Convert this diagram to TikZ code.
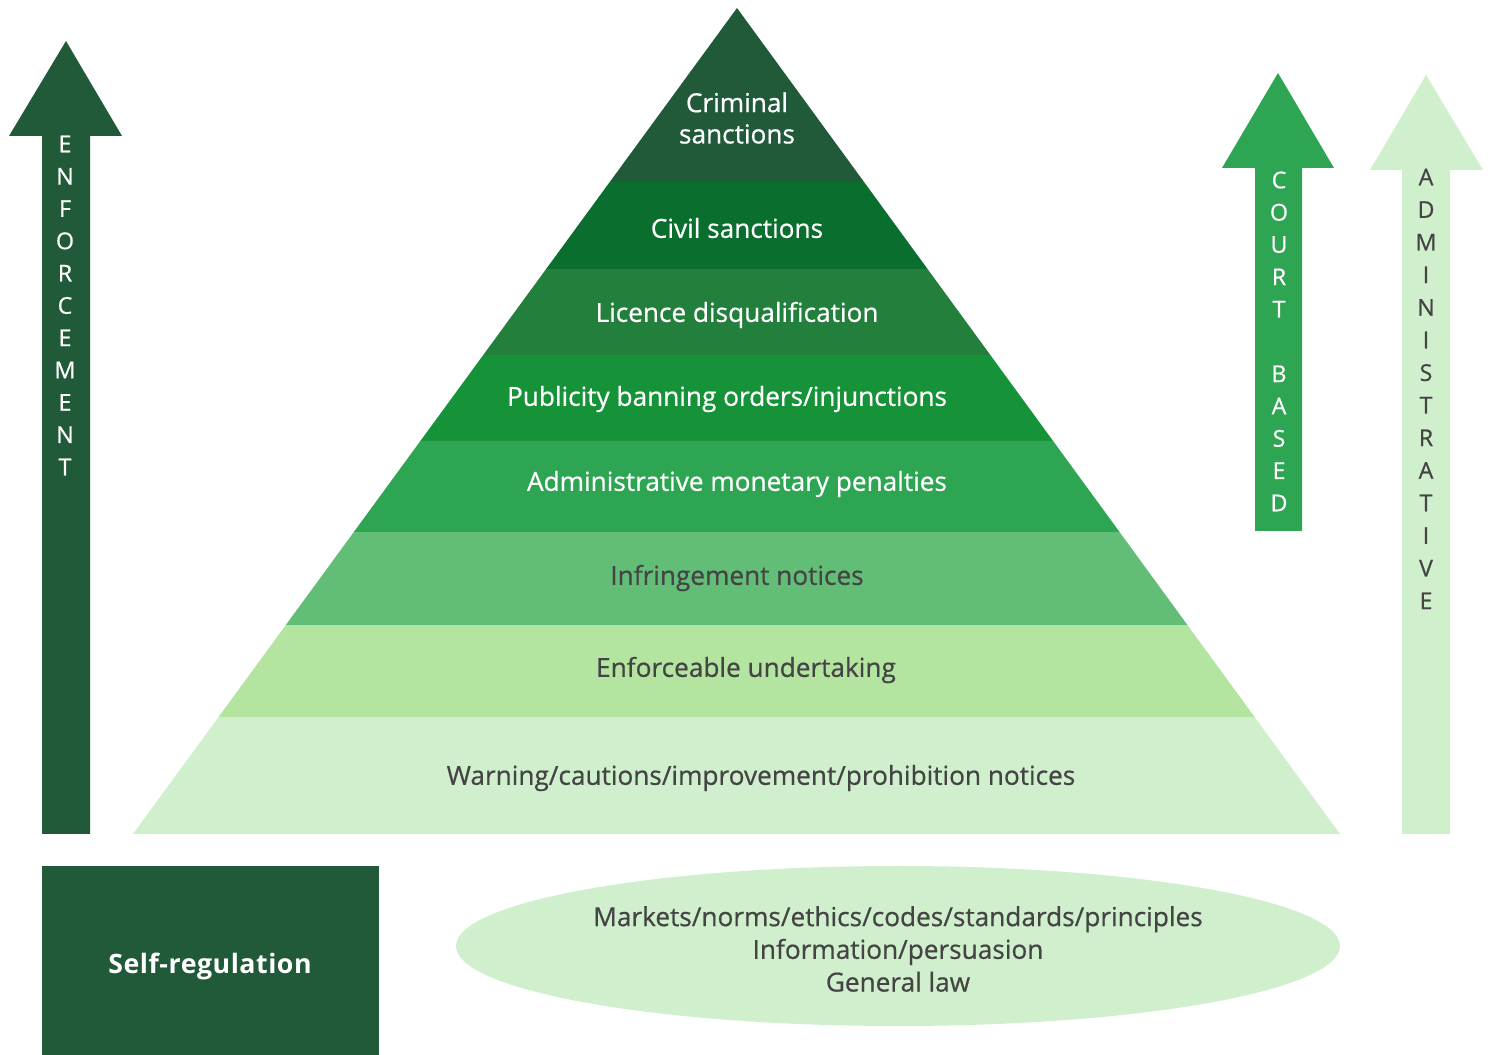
\documentclass[tikz,border=0pt]{standalone}
\usepackage{fontspec}
\setmainfont{Open Sans}
\newfontfamily\semib{Open Sans}[FakeBold=0.6]
\usepackage{tikz}
\usetikzlibrary{shapes,arrows,positioning,calc}
\definecolor{darkgreen}{RGB}{33,90,56}
\definecolor{civilgreen}{RGB}{10,110,46}
\definecolor{licgreen}{RGB}{35,127,60}
\definecolor{pubgreen}{RGB}{22,147,56}
\definecolor{midgreen}{RGB}{46,165,83}
\definecolor{infgreen}{RGB}{98,189,118}
\definecolor{undgreen}{RGB}{179,228,160}
\definecolor{palegreen}{RGB}{208,239,204}
\definecolor{textgray}{RGB}{68,68,68}

\begin{document}
\begin{tikzpicture}[x=0.01cm,y=-0.01cm,
  bandtext/.style={font=\semib\fontsize{7.45}{8.9}\selectfont,align=center},
  letter/.style={font=\semib\fontsize{6.6}{8}\selectfont,inner sep=0pt}]
  \useasboundingbox (0,0) rectangle (1493,1055);

  % Pyramid corners
  \coordinate (apex) at (737,8);
  \coordinate (bl) at (133,834);
  \coordinate (br) at (1340,834);

  % Pyramid bands (fraction of height from apex)
  \foreach \ta/\tb/\col in {0/0.2107/darkgreen, 0.2107/0.3160/civilgreen,
      0.3160/0.4201/licgreen, 0.4201/0.5242/pubgreen, 0.5242/0.6344/midgreen,
      0.6344/0.7470/infgreen, 0.7470/0.8584/undgreen, 0.8584/1/palegreen} {
    \fill[\col] ($(apex)!\ta!(bl)$) -- ($(apex)!\tb!(bl)$)
      -- ($(apex)!\tb!(br)$) -- ($(apex)!\ta!(br)$) -- cycle;
  }

  % Band labels
  \node[bandtext,white] (crim) at (737,118) {Criminal\\sanctions};
  \node[bandtext,white] (civil) at (737,228) {Civil sanctions};
  \node[bandtext,white] (licence) at (737,315) {Licence disqualification};
  \node[bandtext,white] (publicity) at (727,399) {Publicity banning orders/injunctions};
  \node[bandtext,white] (amp) at (737,484) {Administrative monetary penalties};
  \node[bandtext,textgray] (infr) at (737,578) {Infringement notices};
  \node[bandtext,textgray] (undert) at (746,670) {Enforceable undertaking};
  \node[bandtext,textgray] (warn) at (761,778) {Warning/cautions/improvement/prohibition notices};

  % Enforcement arrow
  \fill[darkgreen] (42,834) -- (42,136) -- (9,136) -- (66,41) -- (122,136)
    -- (90,136) -- (90,834) -- cycle;
  \foreach \l [count=\i] in {E,N,F,O,R,C,E,M,E,N,T}
    \node[letter,white] (enf\i) at (65,{144+(\i-1)*32.3}) {\l};

  % Court based arrow
  \fill[midgreen] (1255,531) -- (1255,168) -- (1222,168) -- (1278,73) -- (1334,168)
    -- (1302,168) -- (1302,531) -- cycle;
  \foreach \l [count=\i] in {C,O,U,R,T,{},B,A,S,E,D}
    \node[letter,white] (crt\i) at (1279,{180+(\i-1)*32.3}) {\l};

  % Administrative arrow
  \fill[palegreen] (1402,834) -- (1402,170) -- (1370,170) -- (1426,75) -- (1483,170)
    -- (1450,170) -- (1450,834) -- cycle;
  \foreach \l [count=\i] in {A,D,M,I,N,I,S,T,R,A,T,I,V,E}
    \node[letter,textgray] (adm\i) at (1426,{177+(\i-1)*32.6}) {\l};

  % Self-regulation box
  \fill[darkgreen] (42,866) rectangle (379,1055);
  \node[white,font=\fontsize{7.6}{9}\bfseries\addfontfeature{LetterSpace=2}] (selfreg) at (210,966) {Self-regulation};

  % Base ellipse
  \fill[palegreen] (898,946) ellipse [x radius=442, y radius=80];
  \node[bandtext,textgray,align=center] (base) at (898,949)
    {Markets/norms/ethics/codes/standards/principles\\[0.4pt]Information/persuasion\\[0.4pt]General law};
\end{tikzpicture}
\end{document}
